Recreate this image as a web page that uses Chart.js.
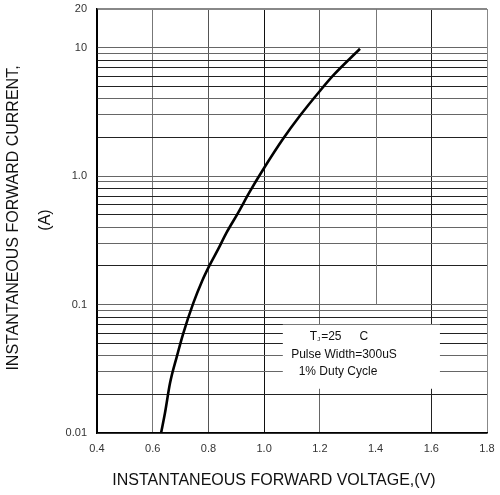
<!DOCTYPE html>
<html>
<head>
<meta charset="utf-8">
<script src="https://cdn.jsdelivr.net/npm/chart.js@4/dist/chart.umd.min.js"></script>
<style>
html,body{margin:0;padding:0;background:#fff;}
#wrap{width:500px;height:495px;position:relative;}
</style>
</head>
<body>
<div id="wrap"><canvas id="c" width="500" height="495"></canvas></div>
<script>
// Data
const voltage = [0.63, 0.644, 0.662, 0.686, 0.71, 0.746, 0.777, 0.803, 0.835, 0.865, 0.907, 0.949, 0.997, 1.068, 1.129, 1.2, 1.248, 1.344];
const current = [0.01, 0.0143, 0.0244, 0.039, 0.060, 0.103, 0.152, 0.2, 0.27, 0.363, 0.52, 0.76, 1.13, 1.95, 2.96, 4.6, 6.08, 9.8];
const yGridValues = [0.01,0.02,0.03,0.04,0.05,0.06,0.07,0.08,0.09,0.1,0.2,0.3,0.4,0.5,0.6,0.7,0.8,0.9,1,2,3,4,5,6,7,8,9,10,20];
const yTickLabels = {0.01:'0.01', 0.1:'0.1', 1:'1.0', 10:'10', 20:'20'};
const xTicks = [0.4,0.6,0.8,1.0,1.2,1.4,1.6,1.8];
const xTitle = 'INSTANTANEOUS FORWARD VOLTAGE,(V)';
const yTitle = ['INSTANTANEOUS FORWARD CURRENT,', '(A)'];
const noteLines = ['=25', 'Pulse Width=300uS', '1% Duty Cycle'];
const noteBox = {x0:1.067, x1:1.631, y0:0.0698, y1:0.0221};

const FONT = '"Liberation Sans", Arial, sans-serif';

const xGridColor = {0.4:'#000',0.6:'#777',0.8:'#555',1.0:'#111',1.2:'#666',1.4:'rgba(0,0,0,0)',1.6:'#222',1.8:'#888'};

const overlay = {
  id:'overlay',
  beforeDatasetsDraw(chart){
    const {ctx, scales:{x,y}} = chart;
    ctx.save();
    // partial 1.4 vertical grid line (top down to 0.1)
    ctx.strokeStyle = '#777'; ctx.lineWidth = 1;
    const px = Math.round(x.getPixelForValue(1.4)) + 0.5;
    ctx.beginPath(); ctx.moveTo(px, y.getPixelForValue(20)); ctx.lineTo(px, y.getPixelForValue(0.1)); ctx.stroke();
    // white note box
    const bx0 = x.getPixelForValue(noteBox.x0), bx1 = x.getPixelForValue(noteBox.x1);
    const by0 = y.getPixelForValue(noteBox.y0), by1 = y.getPixelForValue(noteBox.y1);
    ctx.fillStyle = '#fff';
    ctx.fillRect(bx0, by0, bx1-bx0, by1-by0);
    // note text
    ctx.fillStyle = '#111';
    ctx.textBaseline = 'middle';
    ctx.font = '12px ' + FONT;
    const cx = 339;
    ctx.textAlign = 'left';
    const tW = ctx.measureText('T').width;
    const w25 = ctx.measureText(noteLines[0]).width;
    const wC = ctx.measureText('C').width;
    const total = tW + 4 + w25 + 18 + wC;
    let sx = cx - total/2;
    ctx.fillText('T', sx, by0 + 12);
    ctx.font = '6px ' + FONT;
    ctx.fillText('J', sx + tW, by0 + 15);
    ctx.font = '12px ' + FONT;
    ctx.fillText(noteLines[0], sx + tW + 4, by0 + 12);
    ctx.fillText('C', sx + tW + 4 + w25 + 18, by0 + 12);
    ctx.textAlign = 'center';
    ctx.fillText(noteLines[1], 344, by0 + 30);
    ctx.fillText(noteLines[2], 338, by0 + 47);
    ctx.restore();
  },
  afterDraw(chart){
    const {ctx} = chart;
    ctx.save();
    ctx.fillStyle = '#111';
    ctx.font = '16px ' + FONT;
    ctx.textAlign = 'center';
    ctx.textBaseline = 'middle';
    ctx.fillText(xTitle, 274, 481);
    ctx.translate(14, 218);
    ctx.rotate(-Math.PI/2);
    ctx.fillText(yTitle[0], 0, 0);
    ctx.restore();
    ctx.save();
    ctx.fillStyle = '#111';
    ctx.font = '16px ' + FONT;
    ctx.textAlign = 'center';
    ctx.textBaseline = 'middle';
    ctx.translate(46, 220);
    ctx.rotate(-Math.PI/2);
    ctx.fillText(yTitle[1], 0, 0);
    ctx.restore();
  }
};

new Chart(document.getElementById('c'), {
  type:'line',
  data:{
    datasets:[{
      data: voltage.map((v,i)=>({x:v, y:current[i]})),
      borderColor:'#000',
      borderWidth:2.6,
      pointRadius:0,
      cubicInterpolationMode:'monotone',
      fill:false
    }]
  },
  options:{
    responsive:false,
    animation:false,
    devicePixelRatio:1,
    layout:{padding:{left:0, top:9, right:13, bottom:0}},
    plugins:{legend:{display:false}, tooltip:{enabled:false}},
    scales:{
      x:{
        type:'linear', min:0.4, max:1.8,
        afterFit(s){ s.height = 62; s.paddingLeft = 0; s.paddingRight = 0; },
        afterBuildTicks(s){ s.ticks = xTicks.map(v=>({value:v})); },
        ticks:{ padding:9, color:'#333', font:{family:FONT, size:11}, callback:(v)=>Number(v).toFixed(1), maxRotation:0, autoSkip:false },
        grid:{ drawTicks:false, color:(c)=> c.tick ? (xGridColor[Math.round(c.tick.value*10)/10] || '#444') : '#444', lineWidth:1 },
        border:{ display:true, color:'#000', width:1.5 }
      },
      y:{
        type:'logarithmic', min:0.01, max:20,
        afterFit(s){ s.width = 97; s.paddingTop = 0; s.paddingBottom = 0; },
        afterBuildTicks(s){ s.ticks = yGridValues.map(v=>({value:v})); },
        ticks:{ padding:10, color:'#333', font:{family:FONT, size:11}, autoSkip:false,
          callback:(v)=>{ for (const k in yTickLabels){ if (Math.abs(Number(k)-v) < 1e-9) return yTickLabels[k]; } return ''; } },
        grid:{ drawTicks:false, color:(c)=>{ if(!c.tick) return '#333'; const v=c.tick.value; if (v===20) return '#888'; const m = Math.round(v/Math.pow(10,Math.floor(Math.log10(v)+1e-9))); return (m===1||m===9||m===4||m===3) ? '#666' : '#222'; }, lineWidth:(c)=> (c.tick && c.tick.value===20) ? 2 : 1 },
        border:{ display:true, color:'#000', width:1.5 }
      }
    }
  },
  plugins:[overlay]
});
</script>
</body>
</html>
